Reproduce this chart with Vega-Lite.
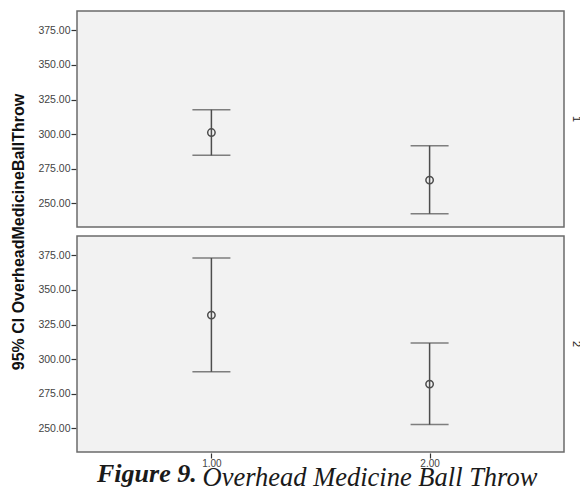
{
  "$schema": "https://vega.github.io/schema/vega-lite/v6.json",
  "padding": {"left": 10, "top": 10, "right": 0, "bottom": 0},
  "background": "white",
  "title": {
    "text": "Figure 9.",
    "orient": "bottom",
    "anchor": "start",
    "baseline": "alphabetic",
    "font": "Liberation Serif",
    "fontSize": 26,
    "fontStyle": "italic",
    "fontWeight": "bold",
    "color": "#1a1a1a",
    "dx": 86,
    "dy": -9,
    "offset": 0
  },
  "data": {
    "values": [
      {"panel": "1", "group": 1, "mean": 301.1, "lower": 284.6, "upper": 317.6},
      {"panel": "1", "group": 2, "mean": 266.7, "lower": 242.4, "upper": 291.6},
      {"panel": "2", "group": 1, "mean": 331.8, "lower": 290.8, "upper": 373.1},
      {"panel": "2", "group": 2, "mean": 281.9, "lower": 252.6, "upper": 311.6}
    ]
  },
  "facet": {
    "row": {
      "field": "panel",
      "type": "nominal",
      "header": {
        "title": "95% CI OverheadMedicineBallThrow",
        "titleOrient": "left",
        "titleFont": "Liberation Sans",
        "titleFontSize": 16,
        "titleFontWeight": "bold",
        "titleColor": "#111",
        "titlePadding": 0,
        "labelOrient": "right",
        "labelAngle": 90,
        "labelFont": "Liberation Sans",
        "labelFontSize": 11,
        "labelColor": "#222",
        "labelPadding": 6
      }
    }
  },
  "spacing": {"row": 7},
  "spec": {
    "width": 487,
    "height": 216,
    "layer": [
      {
        "mark": {"type": "rule", "color": "#4d4d4d", "strokeWidth": 1.5},
        "encoding": {
          "x": {
            "field": "group",
            "type": "quantitative",
            "scale": {"domain": [0.384, 2.616], "nice": false, "zero": false},
            "axis": {
              "values": [1, 2],
              "format": ".2f",
              "title": "Overhead Medicine Ball Throw",
              "titleFont": "Liberation Serif",
              "titleFontSize": 26.5,
              "titleFontStyle": "italic",
              "titleFontWeight": "normal",
              "titleColor": "#1a1a1a",
              "titleAlign": "left",
              "titleAnchor": null,
              "titleX": 125,
              "titleY": 32,
              "titleBaseline": "alphabetic"
            }
          },
          "y": {
            "field": "lower",
            "type": "quantitative",
            "scale": {"domain": [232.8, 389], "nice": false, "zero": false},
            "axis": {"values": [250, 275, 300, 325, 350, 375], "format": ".2f", "title": null}
          },
          "y2": {"field": "upper"}
        }
      },
      {
        "mark": {"type": "tick", "orient": "horizontal", "size": 38, "thickness": 1.5, "color": "#4d4d4d"},
        "encoding": {
          "x": {"field": "group", "type": "quantitative"},
          "y": {"field": "lower", "type": "quantitative"}
        }
      },
      {
        "mark": {"type": "tick", "orient": "horizontal", "size": 38, "thickness": 1.5, "color": "#4d4d4d"},
        "encoding": {
          "x": {"field": "group", "type": "quantitative"},
          "y": {"field": "upper", "type": "quantitative"}
        }
      },
      {
        "mark": {"type": "point", "shape": "circle", "size": 55, "filled": false, "stroke": "#4d4d4d", "strokeWidth": 1.5, "opacity": 1},
        "encoding": {
          "x": {"field": "group", "type": "quantitative"},
          "y": {"field": "mean", "type": "quantitative"}
        }
      }
    ]
  },
  "config": {
    "view": {"stroke": "#6b6b6b", "strokeWidth": 1.5, "fill": "#f2f2f2"},
    "axis": {
      "grid": false,
      "domain": false,
      "tickColor": "#333",
      "tickSize": 5,
      "tickWidth": 1.2,
      "labelFont": "Liberation Sans",
      "labelFontSize": 10.5,
      "labelColor": "#444",
      "labelPadding": 1
    },
    "axisX": {"labelFontSize": 10, "labelPadding": 0}
  }
}
